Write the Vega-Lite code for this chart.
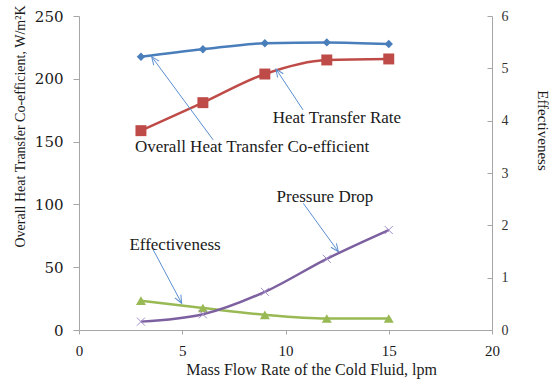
{
  "$schema": "https://vega.github.io/schema/vega-lite/v6.json",
  "width": 413,
  "height": 314,
  "autosize": {"type": "none"},
  "padding": {"left": 79, "top": 16, "right": 66, "bottom": 50},
  "config": {
    "view": {"stroke": null},
    "font": "Liberation Serif",
    "axis": {
      "grid": false,
      "domainColor": "#a6a6a6",
      "tickColor": "#a6a6a6",
      "labelFont": "Liberation Serif",
      "titleFont": "Liberation Serif",
      "titleFontWeight": "normal",
      "labelColor": "#1a1a1a",
      "titleColor": "#1a1a1a",
      "labelFlush": false
    }
  },
  "datasets": {
    "series": [
      {"series": "Overall Heat Transfer Co-efficient", "x": 3, "value": 217.6},
      {"series": "Overall Heat Transfer Co-efficient", "x": 6, "value": 223.5},
      {"series": "Overall Heat Transfer Co-efficient", "x": 9, "value": 228.3},
      {"series": "Overall Heat Transfer Co-efficient", "x": 12, "value": 229.0},
      {"series": "Overall Heat Transfer Co-efficient", "x": 15, "value": 227.7},
      {"series": "Heat Transfer Rate", "x": 3, "value": 158.7},
      {"series": "Heat Transfer Rate", "x": 6, "value": 181.0},
      {"series": "Heat Transfer Rate", "x": 9, "value": 203.8},
      {"series": "Heat Transfer Rate", "x": 12, "value": 215.0},
      {"series": "Heat Transfer Rate", "x": 15, "value": 215.8},
      {"series": "Effectiveness", "x": 3, "value": 0.56},
      {"series": "Effectiveness", "x": 6, "value": 0.42},
      {"series": "Effectiveness", "x": 9, "value": 0.29},
      {"series": "Effectiveness", "x": 12, "value": 0.22},
      {"series": "Effectiveness", "x": 15, "value": 0.22},
      {"series": "Pressure Drop", "x": 3, "value": 0.16},
      {"series": "Pressure Drop", "x": 6, "value": 0.30},
      {"series": "Pressure Drop", "x": 9, "value": 0.73},
      {"series": "Pressure Drop", "x": 12, "value": 1.36},
      {"series": "Pressure Drop", "x": 15, "value": 1.91}
    ],
    "notes": [
      {"label": "Overall Heat Transfer Co-efficient", "tx": 8.38, "ty": 145.7, "x1": 6.50, "y1": 151.3, "x2": 3.52, "y2": 217.6},
      {"label": "Heat Transfer Rate", "tx": 12.49, "ty": 168.8, "x1": 10.85, "y1": 175.2, "x2": 9.54, "y2": 207.8},
      {"label": "Pressure Drop", "tx": 11.91, "ty": 105.9, "x1": 10.86, "y1": 100.9, "x2": 12.56, "y2": 62.3},
      {"label": "Effectiveness", "tx": 4.65, "ty": 67.7, "x1": 3.60, "y1": 63.7, "x2": 4.97, "y2": 21.3}
    ]
  },
  "resolve": {"scale": {"y": "independent"}},
  "layer": [
    {
      "layer": [
        {
          "data": {"name": "series"},
          "transform": [{"filter": {"field": "series", "oneOf": ["Overall Heat Transfer Co-efficient", "Heat Transfer Rate"]}}],
          "mark": {"type": "line", "interpolate": "monotone", "strokeWidth": 2.5},
          "encoding": {
            "x": {
              "field": "x", "type": "quantitative",
              "scale": {"domain": [0, 20], "padding": 0, "nice": false},
              "axis": {
                "values": [0, 5, 10, 15, 20],
                "title": "Mass Flow Rate of the Cold Fluid, lpm",
                "labelFont": "Liberation Serif",
                "labelFontSize": 15,
                "labelFlush": false,
                "tickSize": 4,
                "labelPadding": 9,
                "titleFontSize": 16,
                "titleX": 232,
                "titleY": 39,
                "titleAlign": "center",
                "titleBaseline": "middle"
              }
            },
            "y": {
              "field": "value", "type": "quantitative",
              "scale": {"domain": [0, 250], "padding": 0, "nice": false},
              "axis": {
                "values": [0, 50, 100, 150, 200, 250],
                "title": "Overall Heat Transfer Co-efficient, W/m²K",
                "labelFont": "DejaVu Serif",
                "labelFontSize": 15,
                "labelFlush": false,
                "tickSize": 6,
                "labelPadding": 10,
                "titleFontSize": 14,
                "titleAngle": -90,
                "titleX": -59,
                "titleY": 110,
                "titleAlign": "center",
                "titleBaseline": "middle"
              }
            },
            "color": {
              "field": "series", "type": "nominal",
              "scale": {
                "domain": ["Overall Heat Transfer Co-efficient", "Heat Transfer Rate", "Pressure Drop", "Effectiveness"],
                "range": ["#4a7ebb", "#be4b48", "#7d60a0", "#98b954"]
              },
              "legend": null
            }
          }
        },
        {
          "data": {"name": "series"},
          "transform": [{"filter": {"field": "series", "equal": "Overall Heat Transfer Co-efficient"}}],
          "mark": {"type": "point", "shape": "diamond", "filled": true, "size": 70, "opacity": 1},
          "encoding": {
            "x": {"field": "x", "type": "quantitative"},
            "y": {"field": "value", "type": "quantitative"},
            "color": {"field": "series", "type": "nominal"}
          }
        },
        {
          "data": {"name": "series"},
          "transform": [{"filter": {"field": "series", "equal": "Heat Transfer Rate"}}],
          "mark": {"type": "point", "shape": "square", "filled": true, "size": 120, "opacity": 1},
          "encoding": {
            "x": {"field": "x", "type": "quantitative"},
            "y": {"field": "value", "type": "quantitative"},
            "color": {"field": "series", "type": "nominal"}
          }
        },
        {
          "data": {"name": "notes"},
          "mark": {"type": "rule", "color": "#5b8fd0", "strokeWidth": 1},
          "encoding": {
            "x": {"field": "x1", "type": "quantitative"},
            "y": {"field": "y1", "type": "quantitative"},
            "x2": {"field": "x2"},
            "y2": {"field": "y2"}
          }
        },
        {
          "data": {"name": "notes"},
          "transform": [{"calculate": "atan2((datum.x2 - datum.x1) * 20.65, (datum.y2 - datum.y1) * 1.256) * 180 / PI", "as": "ang"}],
          "mark": {"type": "point", "shape": "M -0.55 1.3 L 0 0 L 0.55 1.3", "filled": false, "stroke": "#5b8fd0", "strokeWidth": 1, "size": 150, "opacity": 1},
          "encoding": {
            "x": {"field": "x2", "type": "quantitative"},
            "y": {"field": "y2", "type": "quantitative"},
            "angle": {"field": "ang", "type": "quantitative", "scale": null}
          }
        },
        {
          "data": {"name": "notes"},
          "mark": {"type": "text", "fontSize": 17, "font": "Liberation Serif", "color": "#1a1a1a", "align": "center", "baseline": "middle"},
          "encoding": {
            "x": {"field": "tx", "type": "quantitative"},
            "y": {"field": "ty", "type": "quantitative"},
            "text": {"field": "label"}
          }
        }
      ]
    },
    {
      "layer": [
        {
          "data": {"name": "series"},
          "transform": [{"filter": {"field": "series", "oneOf": ["Effectiveness", "Pressure Drop"]}}],
          "mark": {"type": "line", "interpolate": "monotone", "strokeWidth": 2.5},
          "encoding": {
            "x": {"field": "x", "type": "quantitative"},
            "y": {
              "field": "value", "type": "quantitative",
              "scale": {"domain": [0, 6], "padding": 0, "nice": false},
              "axis": {
                "orient": "right",
                "values": [0, 1, 2, 3, 4, 5, 6],
                "title": "Effectiveness",
                "labelFont": "Liberation Serif",
                "labelFontSize": 14,
                "labelFlush": false,
                "labelColor": "#333333",
                "tickSize": -5,
                "labelPadding": 14,
                "titleFontSize": 15,
                "titleAngle": 90,
                "titleX": 50,
                "titleY": 114,
                "titleAlign": "center",
                "titleBaseline": "middle"
              }
            },
            "color": {"field": "series", "type": "nominal"}
          }
        },
        {
          "data": {"name": "series"},
          "transform": [{"filter": {"field": "series", "equal": "Effectiveness"}}],
          "mark": {"type": "point", "shape": "triangle-up", "filled": true, "size": 100, "opacity": 1},
          "encoding": {
            "x": {"field": "x", "type": "quantitative"},
            "y": {"field": "value", "type": "quantitative"},
            "color": {"field": "series", "type": "nominal"}
          }
        },
        {
          "data": {"name": "series"},
          "transform": [{"filter": {"field": "series", "equal": "Pressure Drop"}}],
          "mark": {"type": "point", "shape": "M -1 -1 L 1 1 M -1 1 L 1 -1", "filled": false, "stroke": "#a08cc8", "strokeWidth": 1, "size": 64, "opacity": 1},
          "encoding": {
            "x": {"field": "x", "type": "quantitative"},
            "y": {"field": "value", "type": "quantitative"}
          }
        }
      ]
    }
  ]
}
